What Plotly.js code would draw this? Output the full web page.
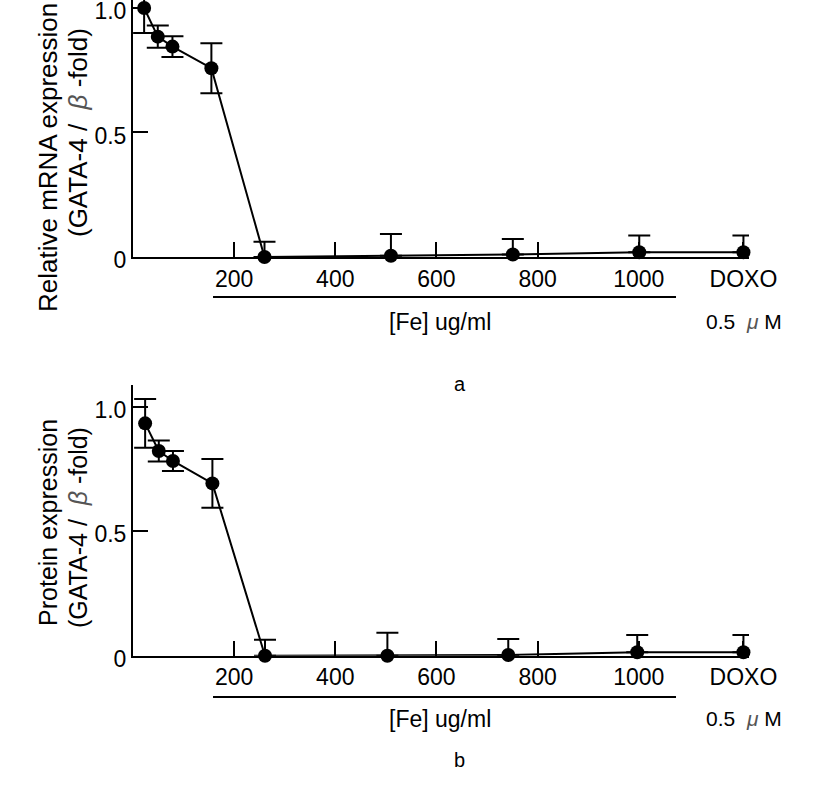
<!DOCTYPE html>
<html>
<head>
<meta charset="utf-8">
<script src="https://cdn.plot.ly/plotly-3.0.1.min.js"></script>
<style>html,body{margin:0;padding:0;background:#fff;}#chart{width:825px;height:810px;}</style>
</head>
<body>
<div id="chart"></div>
<script>
// Panel a: relative mRNA expression
const concA = [22, 49, 78, 155, 260, 510, 751, 1001, 1207];
const mrnaA = [1.0, 0.885, 0.845, 0.758, 0.0, 0.005, 0.01, 0.019, 0.019];
const mrnaErrPlus = [0.1, 0.045, 0.042, 0.1, 0.061, 0.087, 0.062, 0.067, 0.067];
const mrnaErrMinus = [0.1, 0.045, 0.042, 0.1, 0, 0, 0, 0, 0];

// Panel b: protein expression
const concB = [24, 51, 79, 157, 261, 503, 742, 997, 1207];
const protB = [0.933, 0.822, 0.782, 0.692, 0.0, 0.0, 0.003, 0.014, 0.014];
const protErrPlus = [0.098, 0.042, 0.04, 0.098, 0.064, 0.092, 0.064, 0.069, 0.069];
const protErrMinus = [0.098, 0.042, 0.04, 0.098, 0, 0, 0, 0, 0];

const xTickVals = [200, 400, 600, 800, 1000, 1207];
const xTickText = ['200', '400', '600', '800', '1000', 'DOXO'];
const yTickVals = [0, 0.5, 1.0];
const yTickText = ['0', '0.5', '1.0'];

const FONT = 'Liberation Sans, Arial, sans-serif';
const BETA = '<i><span style="color:#555">β</span></i>';
const MU = '<i><span style="color:#555">μ</span></i>';

function series(x, y, ep, em, xa, ya) {
  return {
    x: x, y: y, xaxis: xa, yaxis: ya,
    type: 'scatter', mode: 'lines+markers',
    cliponaxis: false,
    line: {color: '#000', width: 2},
    marker: {color: '#000', size: 14},
    error_y: {type: 'data', symmetric: false, array: ep, arrayminus: em,
              color: '#000', thickness: 2, width: 11},
    showlegend: false, hoverinfo: 'x+y'
  };
}

const data = [
  series(concA, mrnaA, mrnaErrPlus, mrnaErrMinus, 'x', 'y'),
  series(concB, protB, protErrPlus, protErrMinus, 'x2', 'y2')
];

function xax(anchor) {
  return {
    anchor: anchor, domain: [0, 1], range: [0, 1218],
    showline: true, linecolor: '#000', linewidth: 2,
    ticks: 'inside', ticklen: 15, tickwidth: 2, tickcolor: '#000',
    tickvals: xTickVals, ticktext: xTickText,
    showgrid: false, zeroline: false, ticklabeloverflow: 'allow',
    tickfont: {family: FONT, size: 23, color: '#000'}
  };
}
function yax(anchor, domain, top) {
  return {
    anchor: anchor, domain: domain, range: [0, top],
    showline: true, linecolor: '#000', linewidth: 2,
    ticks: 'inside', ticklen: 15, tickwidth: 2, tickcolor: '#000',
    tickvals: yTickVals, ticktext: yTickText, ticklabelshift: 3,
    showgrid: false, zeroline: false, ticklabeloverflow: 'allow',
    tickfont: {family: FONT, size: 23, color: '#000'}
  };
}

const txt = (text, x, y, size, extra) => Object.assign({
  text: text, xref: 'paper', yref: 'paper', x: x, y: y,
  xanchor: 'center', yanchor: 'middle', showarrow: false,
  font: {family: FONT, size: size, color: '#000'}
}, extra || {});

const line2 = '(GATA-4 /&nbsp;&nbsp;' + BETA + '&nbsp;-fold)';
const doxoConc = '0.5&nbsp; ' + MU + ' M';

const layout = {
  width: 825, height: 810,
  margin: {l: 133, r: 76, t: 0, b: 0, pad: 0},
  paper_bgcolor: '#fff', plot_bgcolor: '#fff',
  xaxis: xax('y'),
  yaxis: yax('x', [0.68272, 1], 1.0321),
  xaxis2: xax('y2'),
  yaxis2: yax('x2', [0.19049, 0.52469], 1.0871),
  annotations: [
    txt('Relative mRNA expression', -0.138, 0.8062, 26, {textangle: -90}),
    txt(line2, -0.0893, 0.837, 26, {textangle: -90}),
    txt('Protein expression', -0.138, 0.3556, 25, {textangle: -90}),
    txt(line2, -0.0893, 0.3494, 25, {textangle: -90}),
    txt('[Fe] ug/ml', 0.4984, 0.6025, 23),
    txt(doxoConc, 0.9919, 0.6025, 21),
    txt('a', 0.5308, 0.5265, 20),
    txt('[Fe] ug/ml', 0.4984, 0.1125, 23),
    txt(doxoConc, 0.9919, 0.1125, 21),
    txt('b', 0.5308, 0.0617, 20)
  ],
  shapes: [
    {type: 'line', xref: 'paper', yref: 'paper', x0: 0.1299, x1: 0.8815, y0: 0.6333, y1: 0.6333, line: {color: '#000', width: 2}},
    {type: 'line', xref: 'paper', yref: 'paper', x0: 0.1299, x1: 0.8815, y0: 0.1395, y1: 0.1395, line: {color: '#000', width: 2}}
  ]
};

Plotly.newPlot('chart', data, layout, {displayModeBar: false, staticPlot: true});
</script>
</body>
</html>
